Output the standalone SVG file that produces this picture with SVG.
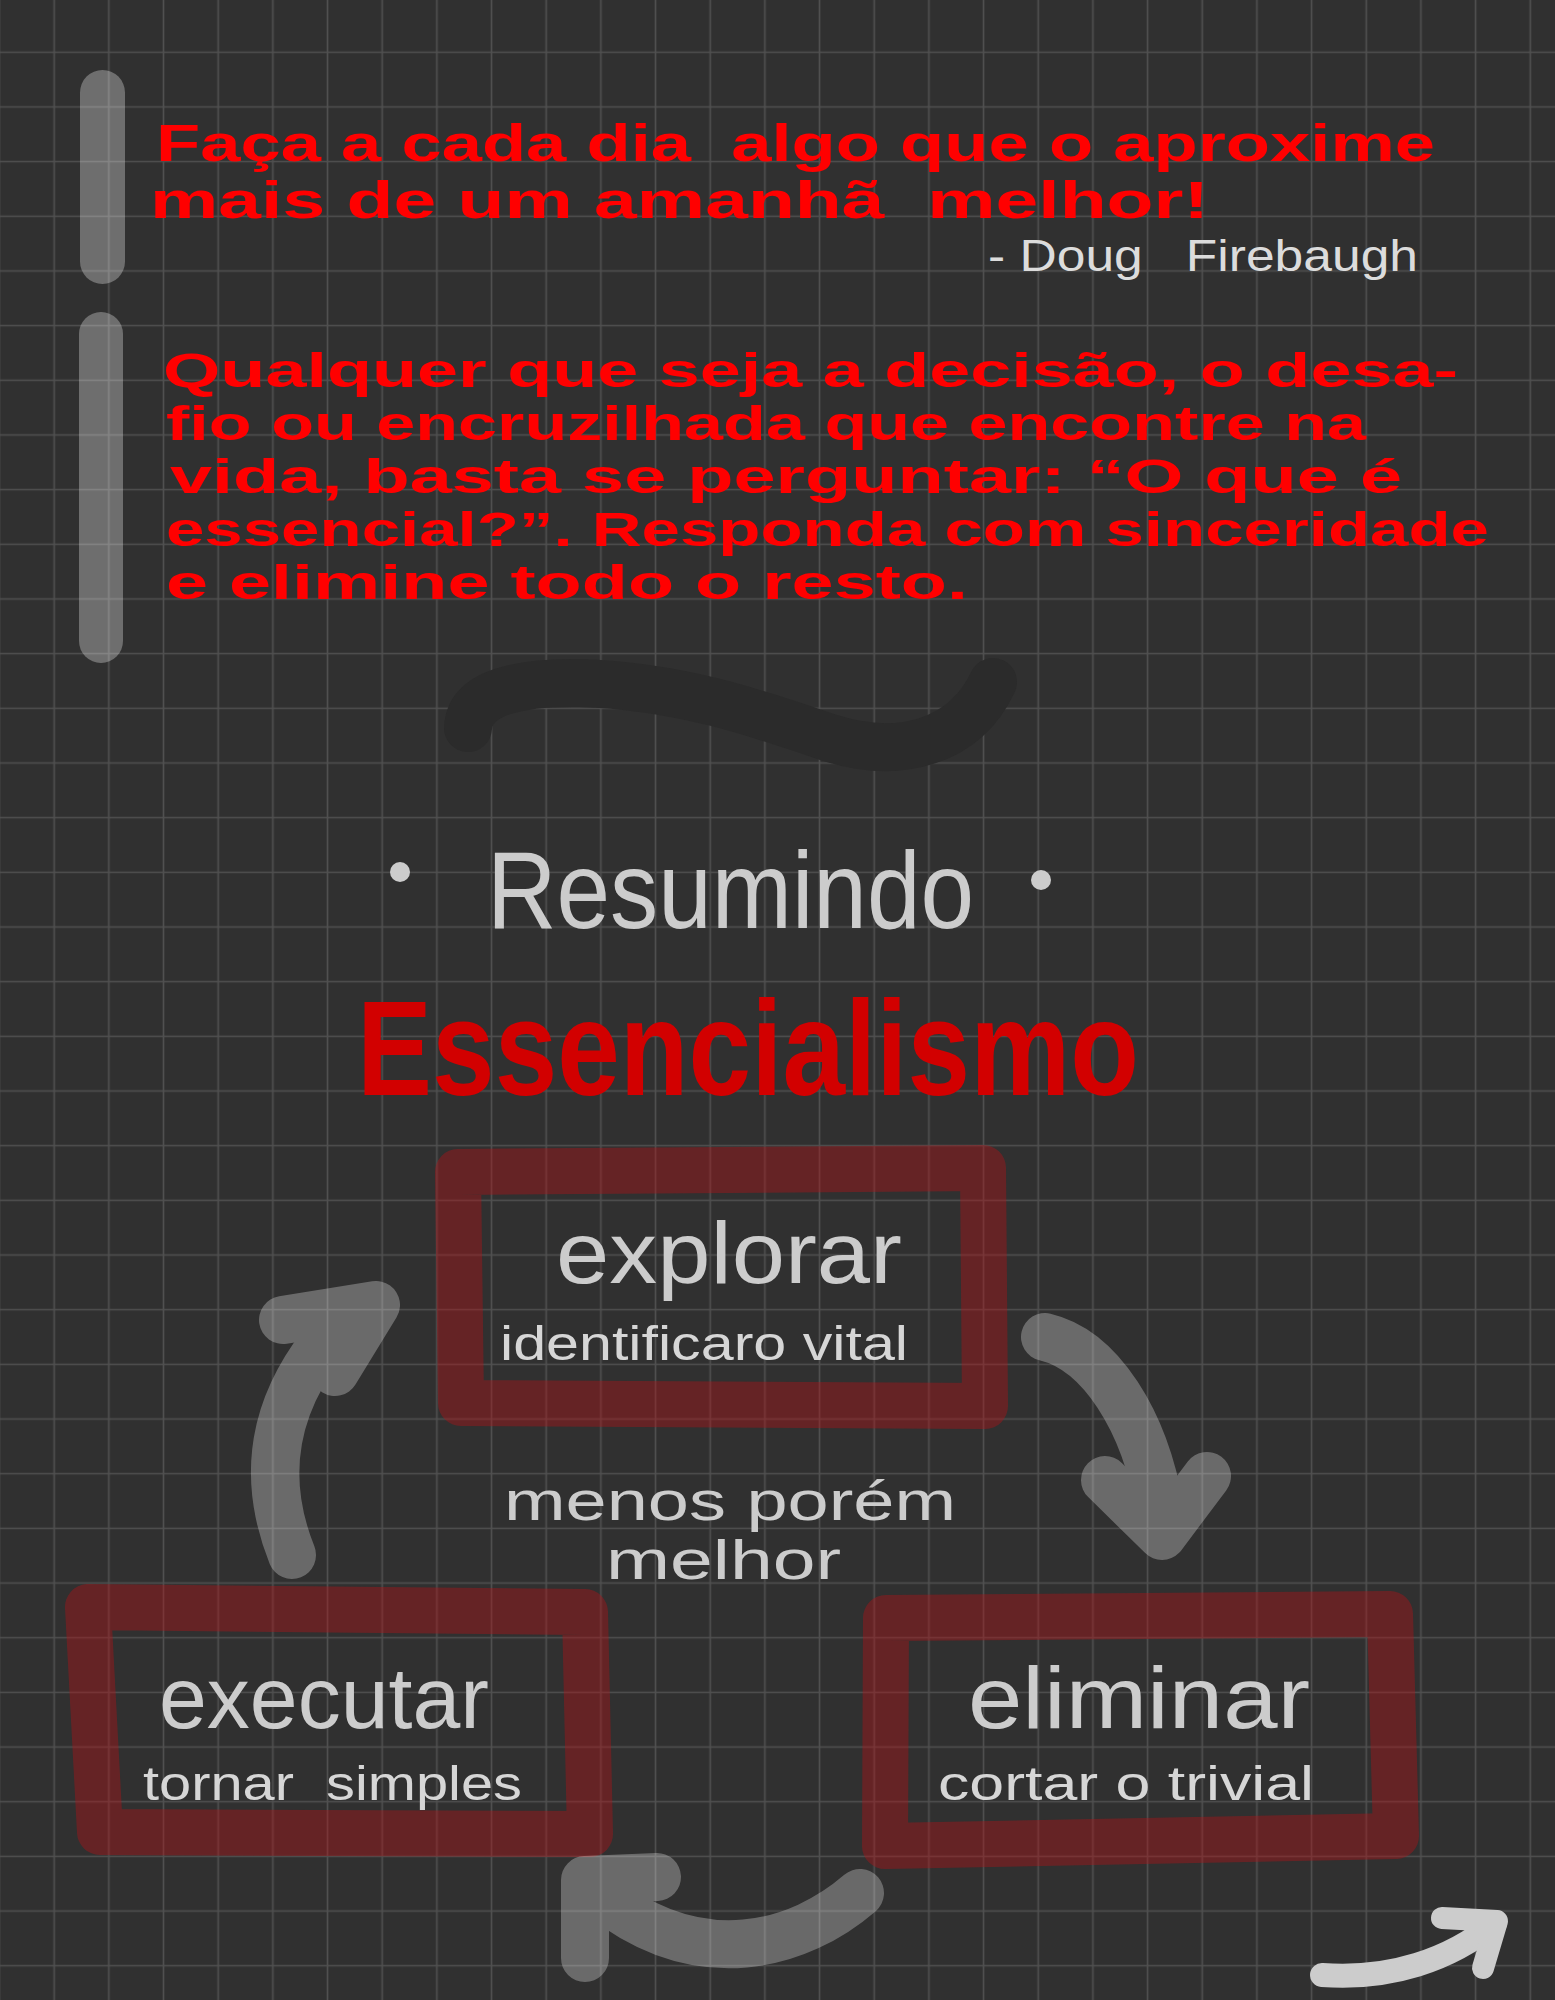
<svg xmlns="http://www.w3.org/2000/svg" width="1555" height="2000" viewBox="0 0 1555 2000">
  <defs>
    <pattern id="grid" patternUnits="userSpaceOnUse" x="-27.835" y="-29.735" width="54.67" height="54.67">
      <path d="M 27.335 0 V 54.67 M 0 27.335 H 54.67" stroke="#505050" stroke-width="1.6" fill="none"/>
    </pattern>
  </defs>
  <style>
    text { white-space: pre; }
    .red { fill: #ff0000; font-family: "Liberation Sans", "Noto Sans", sans-serif; font-weight: bold; }
    .light { fill: #dcdcdc; font-family: "Liberation Sans", "Noto Sans", sans-serif; font-weight: normal; }
    .big { fill: #cccccc; font-family: "Liberation Sans", "Noto Sans", sans-serif; font-weight: normal; }
    .title { fill: #cccccc; font-family: "Liberation Sans", "Noto Sans", sans-serif; font-size: 88px; }
    .sub { fill: #d6d6d6; font-family: "Liberation Sans", "Noto Sans", sans-serif; font-size: 48px; }
    .box { fill: none; stroke: #b01418; stroke-width: 46; stroke-linejoin: round; }
    .arrow { fill: none; stroke: #ffffff; stroke-width: 48; stroke-linecap: round; stroke-linejoin: round; }
    .bar { fill: #ffffff; opacity: 0.3; }
  </style>

  <rect x="0" y="0" width="1555" height="2000" fill="#303030"/>
  <rect x="0" y="0" width="1555" height="2000" fill="url(#grid)"/>

  <!-- side bars -->
  <rect class="bar" x="80" y="70" width="45" height="214" rx="22.5"/>
  <rect class="bar" x="79" y="312" width="44" height="351" rx="22"/>

  <!-- quote 1 -->
  <text class="red" x="156" y="161" font-size="52" textLength="1279" lengthAdjust="spacingAndGlyphs">Faça a cada dia  algo que o aproxime</text>
  <text class="red" x="150" y="218" font-size="52" textLength="1059" lengthAdjust="spacingAndGlyphs">mais de um amanhã  melhor!</text>
  <text class="light" x="988" y="271" font-size="44" textLength="430" lengthAdjust="spacingAndGlyphs">- Doug   Firebaugh</text>

  <!-- quote 2 -->
  <text class="red" x="163" y="387" font-size="49" textLength="1295" lengthAdjust="spacingAndGlyphs">Qualquer que seja a decisão, o desa-</text>
  <text class="red" x="166" y="440" font-size="49" textLength="1200" lengthAdjust="spacingAndGlyphs">fio ou encruzilhada que encontre na</text>
  <text class="red" x="170" y="493" font-size="49" textLength="1232" lengthAdjust="spacingAndGlyphs">vida, basta se perguntar: “O que é</text>
  <text class="red" x="166" y="546" font-size="49" textLength="1323" lengthAdjust="spacingAndGlyphs">essencial?”. Responda com sinceridade</text>
  <text class="red" x="166" y="599" font-size="49" textLength="802" lengthAdjust="spacingAndGlyphs">e elimine todo o resto.</text>

  <!-- tilde -->
  <path d="M 468 728 C 470 692, 520 682, 580 683 C 680 686, 760 714, 830 738 C 900 760, 965 742, 993 682" fill="none" stroke="#2b2b2b" stroke-width="48" stroke-linecap="round"/>

  <!-- heading -->
  <circle cx="400" cy="872" r="10" fill="#cccccc"/>
  <text class="big" x="487" y="928" font-size="110" textLength="487" lengthAdjust="spacingAndGlyphs">Resumindo</text>
  <circle cx="1041" cy="880" r="10" fill="#cccccc"/>
  <text x="357" y="1095" font-family="Liberation Sans, Noto Sans, sans-serif" font-weight="bold" font-size="136" fill="#d20000" textLength="782" lengthAdjust="spacingAndGlyphs">Essencialismo</text>

  <!-- nodes -->
  <g id="node-explorar">
    <path class="box" opacity="0.42" d="M 458 1172 L 983 1168 L 985 1406 L 461 1403 Z"/>
    <text class="title" x="556" y="1283" font-size="92" textLength="346" lengthAdjust="spacingAndGlyphs">explorar</text>
    <text class="sub" x="500" y="1360" textLength="408" lengthAdjust="spacingAndGlyphs">identificaro vital</text>
  </g>

  <g id="node-center">
    <text class="big" x="504" y="1520" font-size="56" font-weight="bold" textLength="452" lengthAdjust="spacingAndGlyphs">menos porém</text>
    <text class="big" x="606" y="1579" font-size="56" font-weight="bold" textLength="235" lengthAdjust="spacingAndGlyphs">melhor</text>
  </g>

  <g id="node-executar">
    <path class="box" opacity="0.42" d="M 88 1607 L 585 1612 L 590 1834 L 100 1832 Z"/>
    <text class="title" x="159" y="1728" textLength="330" lengthAdjust="spacingAndGlyphs">executar</text>
    <text class="sub" x="143" y="1800" textLength="379" lengthAdjust="spacingAndGlyphs">tornar  simples</text>
  </g>

  <g id="node-eliminar">
    <path class="box" opacity="0.42" d="M 886 1618 L 1390 1614 L 1396 1836 L 885 1846 Z"/>
    <text class="title" x="968" y="1728" textLength="342" lengthAdjust="spacingAndGlyphs">eliminar</text>
    <text class="sub" x="938" y="1800" textLength="376" lengthAdjust="spacingAndGlyphs">cortar o trivial</text>
  </g>

  <!-- connectors -->
  <g id="connectors">
    <g opacity="0.28">
      <path class="arrow" d="M 1045 1337 C 1100 1350, 1145 1420, 1160 1510"/>
      <path class="arrow" d="M 1105 1480 L 1162 1536 L 1207 1476"/>
    </g>
    <g opacity="0.28">
      <path class="arrow" d="M 860 1893 C 800 1945, 700 1975, 600 1895"/>
      <path class="arrow" d="M 585 1958 L 585 1880 L 657 1877"/>
    </g>
    <g opacity="0.28">
      <path class="arrow" d="M 292 1555 C 262 1480, 272 1410, 322 1345"/>
      <path class="arrow" d="M 283 1320 L 376 1305 L 335 1372"/>
    </g>
    <g>
      <path d="M 1322 1975 C 1390 1980, 1450 1960, 1495 1923" fill="none" stroke="#cccccc" stroke-width="24" stroke-linecap="round"/>
      <path d="M 1442 1918 L 1497 1921 L 1483 1968" fill="none" stroke="#cccccc" stroke-width="22" stroke-linecap="round" stroke-linejoin="round"/>
    </g>
  </g>
</svg>
